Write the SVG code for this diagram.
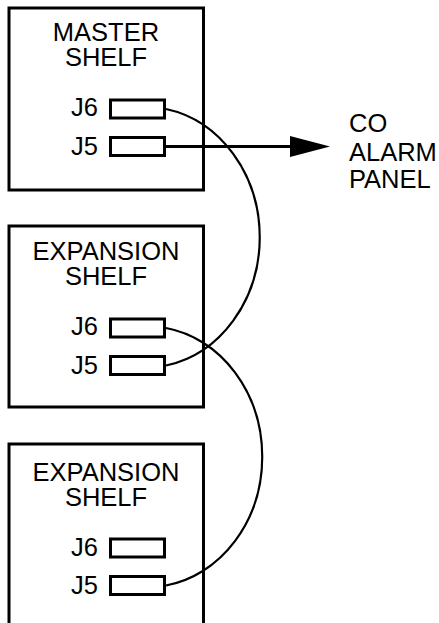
<svg xmlns="http://www.w3.org/2000/svg" width="439" height="623" viewBox="0 0 439 623">
<style>
.box{fill:none;stroke:#000;stroke-width:3}
.jack{fill:#fff;stroke:#000;stroke-width:3}
.cable{fill:none;stroke:#000;stroke-width:2.2}
text{font-family:"Liberation Sans",Arial,sans-serif;font-size:25.5px;fill:#000}
.c{text-anchor:middle}
.r{text-anchor:end}
</style>
<rect width="439" height="623" fill="#fff"/>
<g id="connectors">
<path class="cable" d="M166,109 A115,130.5 0 0 1 166,365.5"/>
<path class="cable" d="M166,328 A115,130.5 0 0 1 166,585.5"/>
<line x1="166" y1="146.5" x2="292" y2="146.5" stroke="#000" stroke-width="3"/>
<polygon points="290,136 330,146.5 290,157" fill="#000"/>
</g>
<g id="master-shelf">
<rect class="box" x="9" y="8" width="194.5" height="182"/>
<text class="c" x="106" y="41">MASTER</text>
<text class="c" x="106" y="66">SHELF</text>
<text class="r" x="98" y="116">J6</text>
<rect class="jack" x="110.5" y="100" width="54" height="18"/>
<text class="r" x="98" y="155">J5</text>
<rect class="jack" x="110.5" y="137.5" width="54" height="18"/>
</g>
<g id="expansion-shelf-1">
<rect class="box" x="9" y="226" width="194.5" height="181"/>
<text class="c" x="106" y="260">EXPANSION</text>
<text class="c" x="106" y="285">SHELF</text>
<text class="r" x="98" y="335">J6</text>
<rect class="jack" x="110.5" y="319" width="54" height="18"/>
<text class="r" x="98" y="374">J5</text>
<rect class="jack" x="110.5" y="356.5" width="54" height="18"/>
</g>
<g id="expansion-shelf-2">
<rect class="box" x="9" y="444" width="194.5" height="190"/>
<text class="c" x="106" y="481">EXPANSION</text>
<text class="c" x="106" y="506">SHELF</text>
<text class="r" x="98" y="555.5">J6</text>
<rect class="jack" x="110.5" y="539" width="54" height="18"/>
<text class="r" x="98" y="594">J5</text>
<rect class="jack" x="110.5" y="576.5" width="54" height="18"/>
</g>
<g id="co-alarm-panel">
<text x="349" y="132">CO</text>
<text x="349" y="161">ALARM</text>
<text x="349" y="188">PANEL</text>
</g>
</svg>
